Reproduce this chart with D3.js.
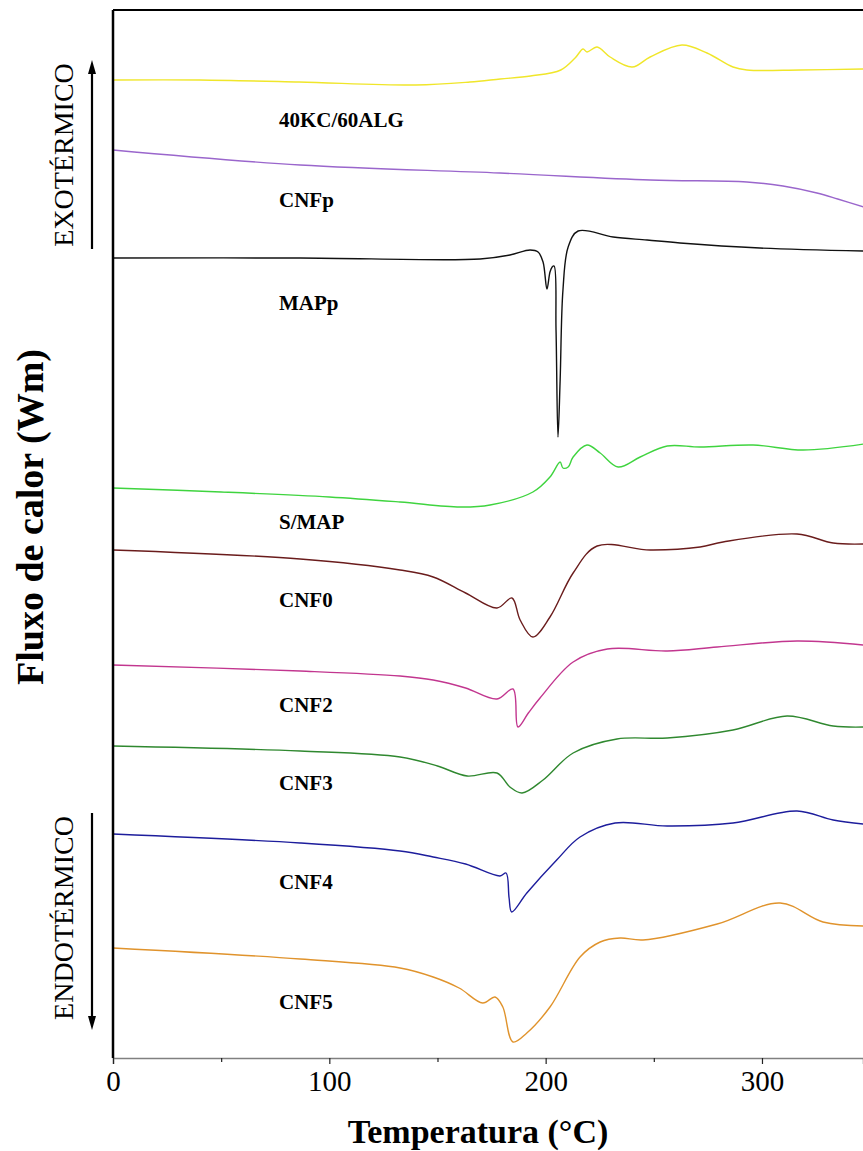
<!DOCTYPE html>
<html>
<head>
<meta charset="utf-8">
<script src="https://cdn.jsdelivr.net/npm/d3@7"></script>
<style>
  html, body { margin: 0; padding: 0; background: #fff; }
  svg { display: block; }
</style>
</head>
<body>
<svg id="chart" width="863" height="1151"></svg>
<script>
// DSC thermograms: temperature (°C) vs heat flow (arbitrary, stacked curves)
const seriesNames = ["40KC/60ALG", "CNFp", "MAPp", "S/MAP", "CNF0", "CNF2", "CNF3", "CNF4", "CNF5"];
const seriesColors = ["#f0e62a", "#9a66cc", "#111111", "#3fd43f", "#6a1c1c", "#c2368f", "#2f882f", "#1d1d9c", "#e0932c"];
const labelLevels = [93.8, 85.8, 75.5, 53.6, 45.8, 35.3, 27.5, 17.6, 5.6];

const kc60alg = [[0,97.8],[40,97.8],[86,97.6],[140,97.3],[165,97.6],[179,97.9],[193,98.2],[207,98.8],[213.6,100.0],[217.3,100.9],[219.1,100.6],[223.8,101.1],[229.8,100.1],[240,99.1],[248.3,100.1],[263,101.3],[274.6,100.5],[286.6,99.1],[293,98.8],[317.6,98.8],[347,98.9]];
const cnfp = [[0,90.8],[86.5,89.3],[178.9,88.5],[248.3,87.8],[293,87.6],[309.7,87.2],[325.4,86.5],[335,85.9],[347,85.1]];
const mapp = [[0,80.0],[86.5,80.0],[169.7,79.9],[183.5,80.3],[192.8,80.8],[196.5,80.6],[198.8,79.6],[200.6,76.9],[202,78.6],[203,79.1],[203.9,79.2],[204.8,72.8],[205.7,62.1],[206.7,67.8],[208,76.8],[210.4,81.1],[215,82.7],[231.2,82.1],[246.9,81.8],[262.1,81.5],[299,81.0],[347,80.7]];
const smap = [[0,57.0],[50,56.6],[100,56.1],[132.7,55.6],[160.4,55.1],[174.3,55.3],[194.1,56.6],[202,58.1],[206.7,59.6],[208,59.0],[210.4,59.1],[212.7,60.1],[219.1,61.3],[225.2,60.5],[233.5,59.1],[243.7,60.1],[256.2,61.2],[271.4,61.1],[295.9,61.3],[319,60.8],[347,61.4]];
const cnf0 = [[0,50.8],[86.5,49.9],[132.7,48.8],[148,48.1],[163,46.5],[177.5,45.0],[184.4,46.0],[188.2,43.8],[194.1,42.1],[202,44.1],[212.7,48.5],[223.8,51.2],[248.3,50.8],[271.4,51.1],[282,51.6],[316.2,52.4],[332.9,51.5],[347,51.4]];
const cnf2 = [[0,39.3],[86.5,38.7],[132.7,38.2],[148,37.8],[163,37.0],[177.5,35.9],[184.9,36.9],[187.2,33.1],[192,34.5],[197.4,36.0],[212.7,39.6],[228.5,40.9],[256.2,40.7],[279.3,41.1],[316.2,41.7],[347,41.3]];
const cnf3 = [[0,31.2],[86.5,30.7],[132.7,30.1],[150,29.2],[163.7,28.2],[177.5,28.5],[183.5,27.1],[189.1,26.5],[198.8,27.8],[212.7,30.5],[233,31.9],[256.2,32.0],[286.6,32.8],[311.6,34.2],[332.9,33.2],[347,33.1]];
const cnf4 = [[0,22.4],[86.5,21.5],[132.7,20.7],[148,20.1],[163,19.4],[178.9,18.2],[181.7,18.5],[183.1,16.0],[184.3,14.6],[191.3,16.5],[205.1,19.8],[215.9,22.1],[232.1,23.5],[256.2,23.2],[286.6,23.5],[316.2,24.7],[332.9,23.8],[347,23.4]];
const cnf5 = [[0,11.0],[86.5,9.9],[132.7,9.0],[148,8.1],[160,7.0],[170.9,5.5],[176.6,6.1],[180.2,5.1],[184.9,1.6],[191.3,2.5],[202,5.1],[215.9,10.1],[225.2,11.6],[234.4,12.0],[245,11.8],[279.3,13.4],[308.4,15.5],[328.2,13.6],[347,13.2]];

const seriesData = [kc60alg, cnfp, mapp, smap, cnf0, cnf2, cnf3, cnf4, cnf5];

const xMajorTicks = [0, 100, 200, 300];
const xMinorTicks = [50, 150, 250];

const svg = d3.select("#chart");
const serif = "'Liberation Serif', 'Times New Roman', serif";

const plot = { left: 113, right: 863, top: 10, bottom: 1058 };
const x = d3.scaleLinear().domain([0, 346.7]).range([plot.left, plot.right]);
const y = d3.scaleLinear().domain([0, 104.8]).range([plot.bottom, plot.top]);

// curves
const line = d3.line()
  .x(d => x(d[0]))
  .y(d => y(d[1]))
  .curve(d3.curveCatmullRom.alpha(0.5));

const curves = svg.append("g");
seriesData.forEach((s, i) => {
  curves.append("path")
    .attr("d", line(s))
    .attr("fill", "none")
    .attr("stroke", seriesColors[i])
    .attr("stroke-width", 1.4)
    .attr("stroke-linejoin", "round");
});

// series labels
svg.append("g").selectAll("text")
  .data(seriesNames)
  .join("text")
  .attr("x", 279)
  .attr("y", (d, i) => y(labelLevels[i]))
  .attr("dy", "0.35em")
  .attr("font-family", serif)
  .attr("font-weight", "bold")
  .attr("font-size", 21)
  .attr("fill", "#000")
  .text(d => d);

// bottom axis
const xAxis = d3.axisBottom(x).tickValues(xMajorTicks).tickSize(6).tickPadding(6).tickFormat(d3.format("d"));
const gx = svg.append("g").attr("transform", `translate(0,${plot.bottom})`).call(xAxis);
gx.select(".domain").attr("stroke", "#808080").attr("stroke-width", 1.5);
gx.selectAll(".tick line").attr("stroke", "#222").attr("stroke-width", 1.2);
gx.selectAll(".tick text")
  .attr("font-family", serif)
  .attr("font-size", 29)
  .attr("fill", "#000");

const xMinor = d3.axisBottom(x).tickValues(xMinorTicks).tickSize(4).tickFormat("");
const gxm = svg.append("g").attr("transform", `translate(0,${plot.bottom})`).call(xMinor);
gxm.select(".domain").remove();
gxm.selectAll(".tick line").attr("stroke", "#222").attr("stroke-width", 1.2);

// left axis and top frame
svg.append("line")
  .attr("x1", plot.left).attr("x2", plot.left)
  .attr("y1", plot.top).attr("y2", plot.bottom)
  .attr("stroke", "#000").attr("stroke-width", 2.5);
svg.append("line")
  .attr("x1", plot.left).attr("x2", plot.right)
  .attr("y1", plot.top).attr("y2", plot.top)
  .attr("stroke", "#000").attr("stroke-width", 2);

// axis titles
svg.append("text")
  .attr("x", 478).attr("y", 1143)
  .attr("text-anchor", "middle")
  .attr("font-family", serif)
  .attr("font-weight", "bold")
  .attr("font-size", 34)
  .text("Temperatura (°C)");

svg.append("text")
  .attr("transform", "translate(43,517) rotate(-90)")
  .attr("text-anchor", "middle")
  .attr("font-family", serif)
  .attr("font-weight", "bold")
  .attr("font-size", 38)
  .text("Fluxo de calor (Wm)");

// exo / endo direction markers
function arrow(x0, yFrom, yTo) {
  const dir = Math.sign(yTo - yFrom);
  svg.append("line")
    .attr("x1", x0).attr("x2", x0)
    .attr("y1", yFrom).attr("y2", yTo - dir * 10)
    .attr("stroke", "#000").attr("stroke-width", 2.2);
  svg.append("path")
    .attr("d", `M${x0},${yTo} L${x0 - 4},${yTo - dir * 14} L${x0 + 4},${yTo - dir * 14} Z`)
    .attr("fill", "#000");
}
arrow(92, 249, 60);
arrow(92, 813, 1030);

svg.append("text")
  .attr("transform", "translate(73,155) rotate(-90)")
  .attr("text-anchor", "middle")
  .attr("font-family", serif)
  .attr("font-size", 28)
  .text("EXOTÉRMICO");

svg.append("text")
  .attr("transform", "translate(73,918) rotate(-90)")
  .attr("text-anchor", "middle")
  .attr("font-family", serif)
  .attr("font-size", 28)
  .text("ENDOTÉRMICO");
</script>
</body>
</html>
